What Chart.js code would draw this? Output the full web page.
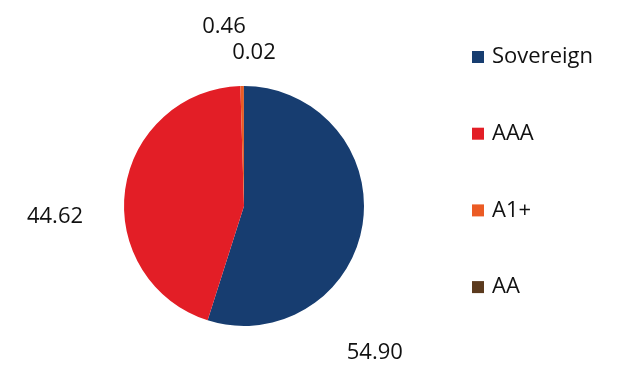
<!DOCTYPE html>
<html>
<head>
<meta charset="utf-8">
<script src="https://cdn.jsdelivr.net/npm/chart.js@4/dist/chart.umd.min.js"></script>
<style>
html,body{margin:0;padding:0;background:#fff;}
#wrap{width:628px;height:392px;position:relative;}
</style>
</head>
<body>
<div id="wrap"><canvas id="c" width="628" height="392"></canvas></div>
<script>
const categories = ["Sovereign", "AAA", "A1+", "AA"];
const values = [54.90, 44.62, 0.46, 0.02];
const valueLabels = ["54.90", "44.62", "0.46", "0.02"];
const colors = ["#173D70", "#E31E26", "#EB5B24", "#5B3A1E"];

// label placement relative to pie centre, in units of radius
const labelOffsets = [[1.09, 1.22], [-1.575, 0.09], [-0.167, -1.49], [0.083, -1.275]];

const FONT = "'Open Sans', 'Noto Sans', sans-serif";

const customDraw = {
  id: 'customDraw',
  afterDraw(chart) {
    const ctx = chart.ctx;
    const meta = chart.getDatasetMeta(0);
    const arc0 = meta.data[0];
    const cx = arc0.x, cy = arc0.y, r = arc0.outerRadius;
    ctx.save();
    ctx.font = "22px " + FONT;
    ctx.fillStyle = "#111";
    ctx.textAlign = "center";
    ctx.textBaseline = "middle";
    valueLabels.forEach((t, i) => {
      const o = labelOffsets[i];
      ctx.fillText(t, cx + o[0] * r, cy + o[1] * r);
    });
    // legend
    const lx = 472, ly0 = 57, step = 76.7, sq = 12;
    ctx.textAlign = "left";
    categories.forEach((name, i) => {
      const y = ly0 + i * step;
      ctx.fillStyle = colors[i];
      ctx.fillRect(lx, y - sq / 2, sq, sq);
      ctx.fillStyle = "#111";
      ctx.fillText(name, lx + 20, y);
    });
    ctx.restore();
  }
};

new Chart(document.getElementById('c'), {
  type: 'pie',
  data: {
    labels: categories,
    datasets: [{
      data: values,
      backgroundColor: colors,
      borderWidth: 0
    }]
  },
  options: {
    responsive: false,
    animation: false,
    layout: { padding: { left: 124, right: 264, top: 86, bottom: 66 } },
    plugins: { legend: { display: false }, tooltip: { enabled: false } }
  },
  plugins: [customDraw]
});
</script>
</body>
</html>
